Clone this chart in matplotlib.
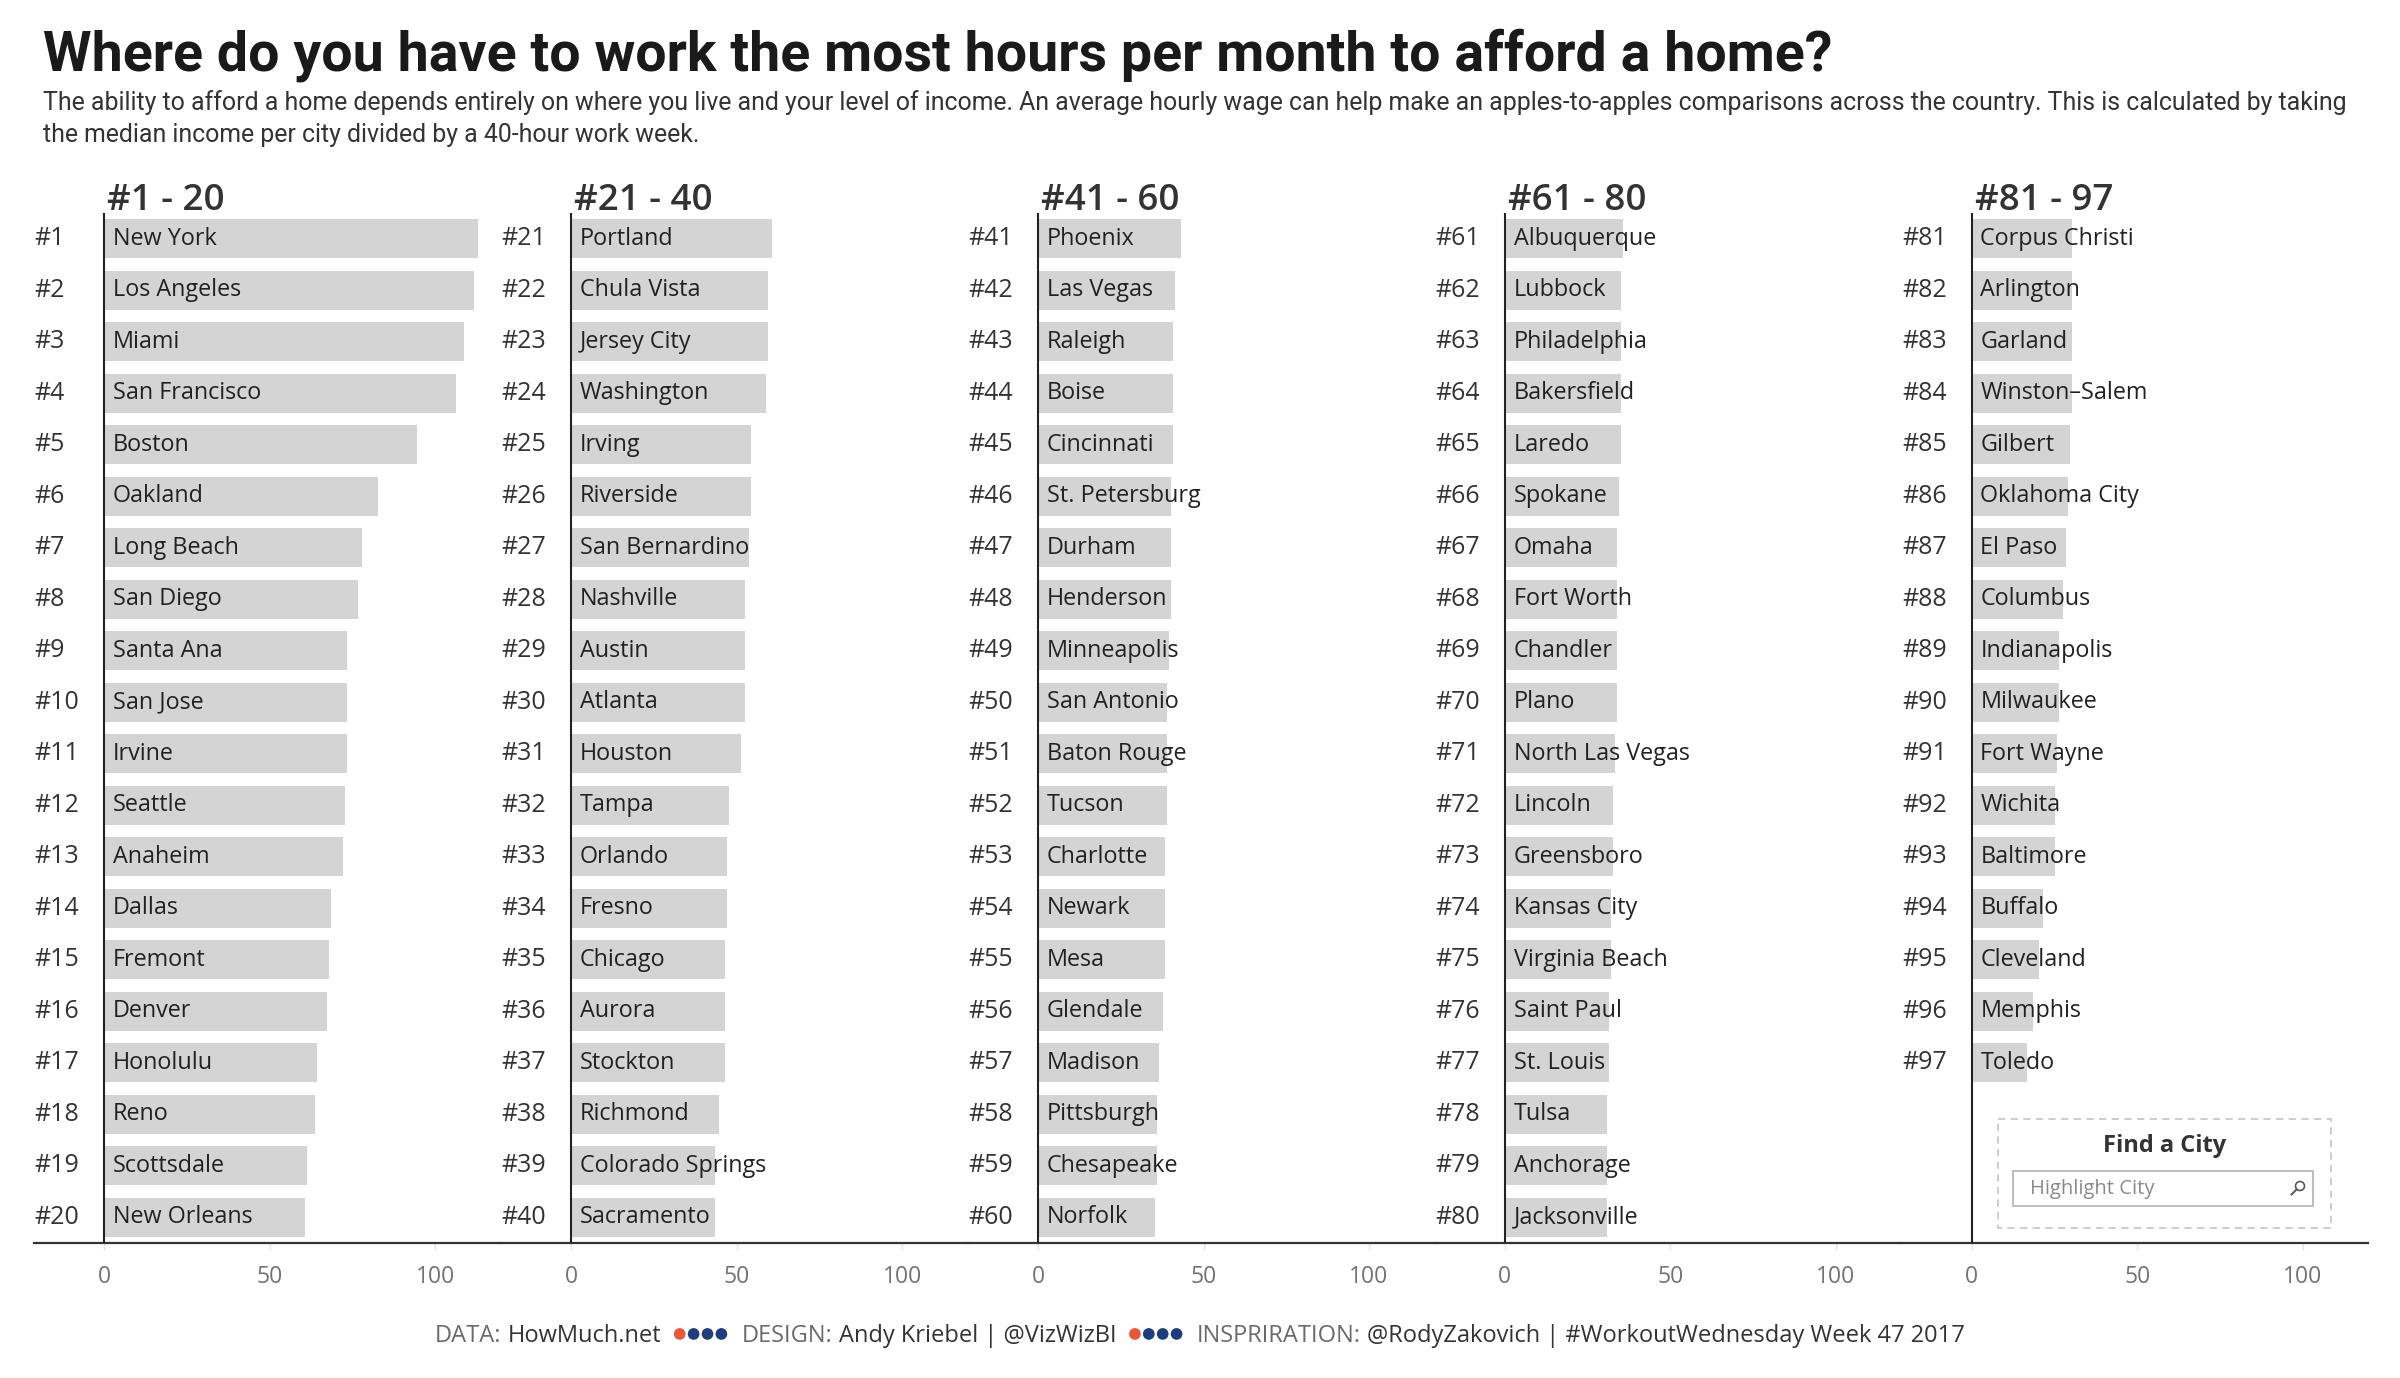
import matplotlib
matplotlib.use("Agg")
import matplotlib.pyplot as plt
from matplotlib.patches import Rectangle, Circle
from matplotlib.lines import Line2D
from matplotlib.transforms import Affine2D
from matplotlib.offsetbox import TextArea, HPacker, DrawingArea, AnnotationBbox

W, H, DPI = 2400, 1378, 100

# ---------------- data ----------------
headings = ["#1 - 20", "#21 - 40", "#41 - 60", "#61 - 80", "#81 - 97"]
rank_start = [1, 21, 41, 61, 81]

cities_1 = ["New York", "Los Angeles", "Miami", "San Francisco", "Boston", "Oakland",
            "Long Beach", "San Diego", "Santa Ana", "San Jose", "Irvine", "Seattle",
            "Anaheim", "Dallas", "Fremont", "Denver", "Honolulu", "Reno", "Scottsdale",
            "New Orleans"]
hours_1 = [113.0, 111.7, 108.8, 106.4, 94.6, 82.7, 77.9, 76.7, 73.2, 73.2, 73.2, 72.6,
           72.0, 68.4, 67.8, 67.2, 64.2, 63.6, 61.2, 60.6]

cities_2 = ["Portland", "Chula Vista", "Jersey City", "Washington", "Irving", "Riverside",
            "San Bernardino", "Nashville", "Austin", "Atlanta", "Houston", "Tampa",
            "Orlando", "Fresno", "Chicago", "Aurora", "Stockton", "Richmond",
            "Colorado Springs", "Sacramento"]
hours_2 = [60.7, 59.5, 59.5, 58.9, 54.2, 54.2, 53.6, 52.4, 52.4, 52.4, 51.2, 47.6,
           47.1, 47.1, 46.5, 46.5, 46.5, 44.7, 43.5, 43.5]

cities_3 = ["Phoenix", "Las Vegas", "Raleigh", "Boise", "Cincinnati", "St. Petersburg",
            "Durham", "Henderson", "Minneapolis", "San Antonio", "Baton Rouge", "Tucson",
            "Charlotte", "Newark", "Mesa", "Glendale", "Madison", "Pittsburgh",
            "Chesapeake", "Norfolk"]
hours_3 = [43.1, 41.3, 40.7, 40.7, 40.7, 40.1, 40.1, 40.1, 39.5, 38.9, 38.9, 38.9,
           38.4, 38.4, 38.4, 37.8, 36.5, 35.9, 35.9, 35.3]

cities_4 = ["Albuquerque", "Lubbock", "Philadelphia", "Bakersfield", "Laredo", "Spokane",
            "Omaha", "Fort Worth", "Chandler", "Plano", "North Las Vegas", "Lincoln",
            "Greensboro", "Kansas City", "Virginia Beach", "Saint Paul", "St. Louis",
            "Tulsa", "Anchorage", "Jacksonville"]
hours_4 = [35.6, 35.0, 35.0, 35.0, 35.0, 34.4, 33.8, 33.8, 33.8, 33.8, 33.2, 32.6,
           32.6, 32.0, 32.0, 31.4, 31.4, 30.8, 30.8, 30.8]

cities_5 = ["Corpus Christi", "Arlington", "Garland", "Winston\u2013Salem", "Gilbert",
            "Oklahoma City", "El Paso", "Columbus", "Indianapolis", "Milwaukee",
            "Fort Wayne", "Wichita", "Baltimore", "Buffalo", "Cleveland", "Memphis",
            "Toledo"]
hours_5 = [30.4, 30.4, 30.4, 30.4, 29.8, 29.2, 28.6, 27.5, 26.3, 26.3, 25.7, 25.1,
           25.1, 21.4, 20.2, 18.4, 16.6]

x_ticks = [0, 50, 100]

title = "Where do you have to work the most hours per month to afford a home?"
subtitle_1 = ("The ability to afford a home depends entirely on where you live and your level of "
              "income. An average hourly wage can help make an apples-to-apples comparisons "
              "across the country. This is calculated by taking")
subtitle_2 = "the median income per city divided by a 40-hour work week."

# ---------------- styling ----------------
BODY = ["Open Sans", "DejaVu Sans"]
HEAD = ["Roboto", "Open Sans", "DejaVu Sans"]
plt.rcParams["font.family"] = BODY
BAR = "#d4d4d4"

fig = plt.figure(figsize=(W / DPI, H / DPI), dpi=DPI)
fig.patch.set_facecolor("white")
T = Affine2D().scale(1, -1).translate(0, H)   # pixel coords, origin top-left

# title / subtitle
t_title = fig.text(43, 70, title, transform=T, fontsize=36, fontweight="bold",
                   color="#1a1a1a", family=HEAD, va="baseline", ha="left")
t_s1 = fig.text(43, 110, subtitle_1, transform=T, fontsize=17, color="#333333",
                family=HEAD, va="baseline", ha="left")
t_s2 = fig.text(43, 142, subtitle_2, transform=T, fontsize=17, color="#333333",
                family=HEAD, va="baseline", ha="left")

renderer = fig.canvas.get_renderer()
def fit(t, target):
    w = t.get_window_extent(renderer).width
    t.set_fontsize(t.get_fontsize() * target / w)
fit(t_title, 1788)
fit(t_s1, 2308)
t_s2.set_fontsize(t_s1.get_fontsize())

# ---------------- panels ----------------
zeros = [104.3, 571.2, 1038.0, 1504.9, 1971.7]
ppu = 3.31
left_off = 70.3
top, bottom = 213, 1243
lefts = [z - left_off for z in zeros]
rights = lefts[1:] + [2368]

all_cities = [cities_1, cities_2, cities_3, cities_4, cities_5]
all_hours = [hours_1, hours_2, hours_3, hours_4, hours_5]

for k in range(5):
    L, R, z = lefts[k], rights[k], zeros[k]
    ax = fig.add_axes([L / W, 1 - bottom / H, (R - L) / W, (bottom - top) / H])
    ax.set_xlim((L - z) / ppu, (R - z) / ppu)
    ax.set_ylim(19.5, -0.5)
    cs, hs = all_cities[k], all_hours[k]
    ys = list(range(len(cs)))
    ax.barh(ys, hs, height=0.75, color=BAR, zorder=1)
    ax.axvline(0, color="#222222", lw=1.5, zorder=3)
    for i, (c, h) in enumerate(zip(cs, hs)):
        ax.annotate(c, (0, i), xytext=(6.3, 0), textcoords="offset points",
                    ha="left", va="center", fontsize=16.8, color="#222222", zorder=4)
        ax.annotate(f"#{rank_start[k] + i}", (0, i), xytext=(-50, 0),
                    textcoords="offset points", ha="left", va="center",
                    fontsize=18, color="#333333", zorder=4)
    ax.annotate(headings[k], (0, -0.5), xytext=(2.2, 2.0), textcoords="offset points",
                ha="left", va="baseline", fontsize=26.5, fontweight="semibold",
                color="#333333", annotation_clip=False)
    for s in ["top", "left", "right"]:
        ax.spines[s].set_visible(False)
    ax.spines["bottom"].set_color("#333333")
    ax.spines["bottom"].set_linewidth(1.6)
    ax.set_yticks([])
    ax.set_xticks(x_ticks)
    ax.set_xticklabels([str(v) for v in x_ticks])
    ax.tick_params(axis="x", colors="#e3e3e3", length=5, width=1, pad=10.5,
                   labelcolor="#727272", labelsize=16.5)
    ax.set_facecolor("none")

# ---------------- footer ----------------
FS = 17
def ta(s, color):
    return TextArea(s, textprops=dict(color=color, fontsize=FS, family=BODY))
dot_colors = ["#e8573a", "#1f3d7d", "#1f3d7d", "#1f3d7d"]
def dots():
    da = DrawingArea(4 * 10, 10, 0, 0)
    for j, c in enumerate(dot_colors):
        da.add_artist(Circle((4.3 + j * 10, 5.8), 3.7, color=c))
    return da
def pair(a, b):
    return HPacker(children=[ta(a, "#6a6a6a"), ta(b, "#333333")], align="baseline",
                   pad=0, sep=4.5)
footer = HPacker(children=[pair("DATA:", "HowMuch.net"), dots(),
                           pair("DESIGN:", "Andy Kriebel | @VizWizBI"), dots(),
                           pair("INSPRIRATION:", "@RodyZakovich | #WorkoutWednesday Week 47 2017")],
                 align="baseline", pad=0, sep=9)
ab = AnnotationBbox(footer, (1200 / W, 1 - 1336 / H), xycoords="figure fraction",
                    frameon=False, box_alignment=(0.5, 0.5))
fig.add_artist(ab)

# ---------------- Find a City box ----------------
fig.add_artist(Rectangle((1998, 1119), 333, 109, transform=T, fill=False,
                         edgecolor="#c8c8c8", lw=1.3, ls=(0, (4, 3))))
fig.text(2165, 1146, "Find a City", transform=T, ha="center", va="center",
         fontsize=17, fontweight="bold", color="#333333")
fig.add_artist(Rectangle((2013, 1171), 300, 35, transform=T, fill=False,
                         edgecolor="#bdbdbd", lw=1.4))
fig.text(2030, 1189, "Highlight City", transform=T, ha="left", va="center",
         fontsize=14.5, color="#8a8a8a")
fig.add_artist(Circle((2300, 1186), 4.5, transform=T, fill=False,
                      edgecolor="#555555", lw=1.2))
fig.add_artist(Line2D([2296.5, 2291.5], [1189.5, 1194.5], transform=T,
                      color="#555555", lw=1.4))

fig.savefig("out.png", dpi=DPI, facecolor="white")
